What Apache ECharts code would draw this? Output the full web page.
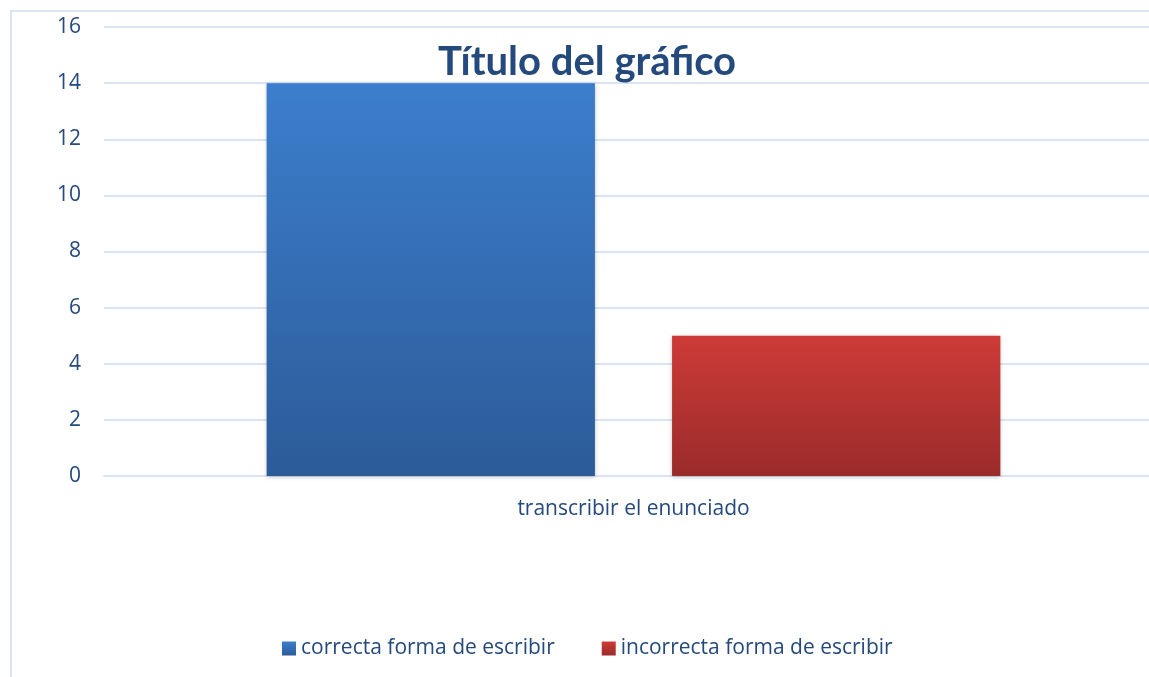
<!DOCTYPE html>
<html>
<head>
<meta charset="utf-8">
<script src="https://cdn.jsdelivr.net/npm/echarts@6/dist/echarts.min.js"></script>
<style>
  html, body { margin: 0; padding: 0; background: #fff; }
  #chart { width: 1149px; height: 677px; }
</style>
</head>
<body>
<div id="chart"></div>
<script>
// datos del gráfico
const categories = ["transcribir el enunciado"];
const seriesNames = ["correcta forma de escribir", "incorrecta forma de escribir"];
const correctaValues = [14];
const incorrectaValues = [5];

const textColor = "#24497c";
const gridColor = "#d9e4f5";
const labelFont = "'Open Sans', sans-serif";
const titleFont = "Lato, 'Open Sans', sans-serif";

function grad(top, bottom) {
  return new echarts.graphic.LinearGradient(0, 0, 0, 1, [
    { offset: 0, color: top },
    { offset: 1, color: bottom }
  ]);
}

const chart = echarts.init(document.getElementById("chart"));
const option = {
  animation: false,
  backgroundColor: "#fff",
  title: {
    text: "Título del gráfico",
    left: 582,
    textAlign: "center",
    top: 37,
    textStyle: { color: textColor, fontSize: 40, fontWeight: "bold", fontFamily: titleFont }
  },
  graphic: [{
    type: "rect",
    shape: { x: 11, y: 11, width: 1300, height: 800 },
    style: { fill: "none", stroke: gridColor, lineWidth: 2 },
    silent: true,
    z: -1
  }],
  legend: {
    top: 638,
    left: 282,
    padding: 0,
    itemWidth: 14,
    itemHeight: 14,
    itemGap: 47,
    icon: "rect",
    textStyle: { color: textColor, fontSize: 21, fontFamily: labelFont },
    data: seriesNames
  },
  grid: { left: 104, width: 1059, top: 27, bottom: 201, outerBoundsMode: "none", containLabel: false },
  xAxis: {
    type: "category",
    data: categories,
    axisLine: { lineStyle: { color: gridColor, width: 2 } },
    axisTick: { show: false },
    axisLabel: { color: textColor, fontSize: 21, fontFamily: labelFont, margin: 23 }
  },
  yAxis: {
    type: "value",
    min: 0,
    max: 16,
    interval: 2,
    axisLine: { show: false },
    axisTick: { show: false },
    splitLine: { lineStyle: { color: gridColor, width: 2 } },
    axisLabel: { color: textColor, fontSize: 21, fontFamily: labelFont, margin: 23 }
  },
  series: [
    {
      name: seriesNames[0],
      type: "bar",
      data: correctaValues,
      barWidth: "31%",
      barGap: "23.5%",
      itemStyle: {
        color: grad("#3c7ecd", "#2c5b98"),
        shadowColor: "rgba(0,0,0,0.25)",
        shadowBlur: 4,
        shadowOffsetY: 1
      }
    },
    {
      name: seriesNames[1],
      type: "bar",
      data: incorrectaValues,
      barWidth: "31%",
      itemStyle: {
        color: grad("#cd3b37", "#9a2b2a"),
        shadowColor: "rgba(0,0,0,0.25)",
        shadowBlur: 4,
        shadowOffsetY: 1
      }
    }
  ]
};
option && chart.setOption(option);
</script>
</body>
</html>
